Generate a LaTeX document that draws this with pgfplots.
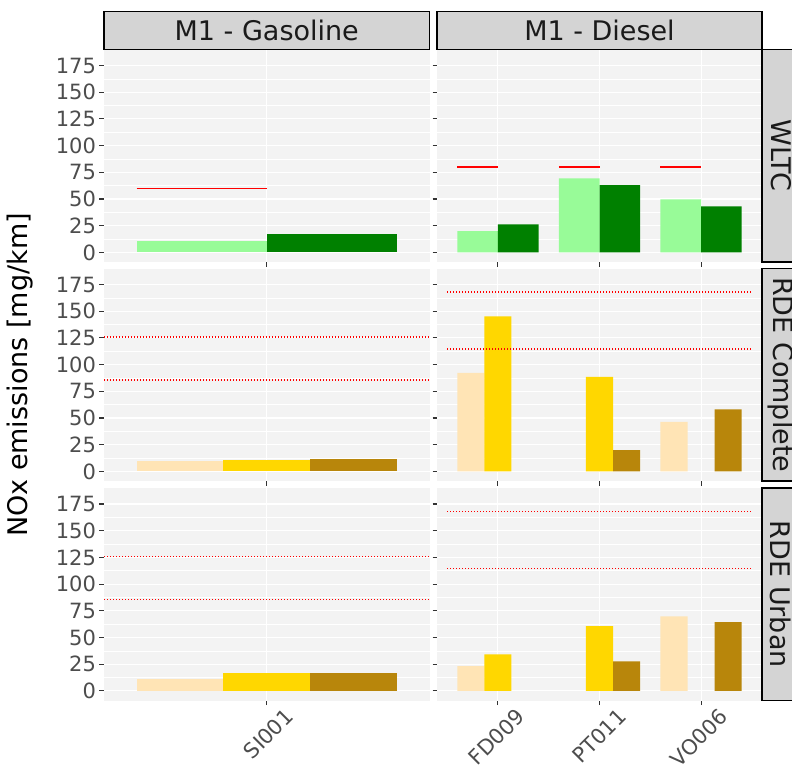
\documentclass[border=0pt]{standalone}
\usepackage{fontspec}
\setmainfont{DejaVu Sans}
\usepackage{pgfplots}
\pgfplotsset{compat=1.18}
\definecolor{panelbg}{RGB}{243,243,243}
\definecolor{stripbg}{RGB}{212,212,212}
\definecolor{lgreen}{RGB}{152,251,152}
\definecolor{dgreen}{RGB}{0,128,0}
\definecolor{beige}{RGB}{255,228,181}
\definecolor{gold}{RGB}{255,215,0}
\definecolor{dgold}{RGB}{184,134,11}
\definecolor{tickgrey}{RGB}{51,51,51}
\definecolor{labgrey}{RGB}{77,77,77}
\definecolor{titlegrey}{RGB}{26,26,26}
\pgfplotsset{
  panel/.style={
    scale only axis, height=212.5pt,
    ymin=-9, ymax=190,
    ytick={0,25,...,175}, minor y tick num=1,
    axis background/.style={fill=panelbg},
    axis line style={draw=none},
    tick align=outside, tick pos=left,
    major tick length=4.5pt, minor tick length=0pt,
    every tick/.style={tickgrey, line width=1.1pt},
    grid=both,
    major grid style={white, line width=1.1pt},
    minor grid style={white, line width=0.55pt},
    ticklabel style={font=\fontsize{21}{24}\selectfont, text=labgrey},
    /pgf/number format/assume math mode=true,
    xticklabel style={rotate=45, anchor=north east, xshift=14pt, yshift=-10pt},
    xticklabels={},
  },
  leftcol/.style={panel, width=325.5pt, xmin=0, xmax=1, xtick={0.5}},
  rightcol/.style={panel, width=325pt, xmin=0.4, xmax=3.6, xtick={1,2,3}, yticklabels={}},
  bar/.style={ybar, bar shift=0, draw=none, fill=#1},
  lim/.style={red, line width=1.4pt},
  dlim/.style={red, line width=1.5pt, dash pattern=on 1.2pt off 1.8pt},
}
\begin{document}
\begin{tikzpicture}
% ---------- Row 1: WLTC ----------
\begin{axis}[leftcol, at={(104pt,-49.5pt)}, anchor=north west]
  \addplot[bar=lgreen, bar width=0.4] coordinates {(0.3,10.5)};
  \addplot[bar=dgreen, bar width=0.4] coordinates {(0.7,17)};
  \addplot[lim] coordinates {(0.1,60) (0.5,60)};
\end{axis}
\begin{axis}[rightcol, at={(437pt,-49.5pt)}, anchor=north west]
  \addplot[bar=lgreen, bar width=0.4] coordinates {(0.8,19.8) (1.8,69.4) (2.8,49.7)};
  \addplot[bar=dgreen, bar width=0.4] coordinates {(1.2,26.2) (2.2,63) (3.2,43.2)};
  \addplot[lim] coordinates {(0.6,80) (1.0,80)};
  \addplot[lim] coordinates {(1.6,80) (2.0,80)};
  \addplot[lim] coordinates {(2.6,80) (3.0,80)};
\end{axis}
% ---------- Row 2: RDE Complete ----------
\begin{axis}[leftcol, at={(104pt,-268.5pt)}, anchor=north west]
  \addplot[bar=beige, bar width=0.2667] coordinates {(0.2333,10)};
  \addplot[bar=gold, bar width=0.2667] coordinates {(0.5,10.6)};
  \addplot[bar=dgold, bar width=0.2667] coordinates {(0.7667,11.8)};
  \addplot[dlim] coordinates {(0,126) (1,126)};
  \addplot[dlim] coordinates {(0,85.8) (1,85.8)};
\end{axis}
\begin{axis}[rightcol, at={(437pt,-268.5pt)}, anchor=north west]
  \addplot[bar=beige, bar width=0.2667] coordinates {(0.7333,92.3) (2.7333,46.3)};
  \addplot[bar=gold, bar width=0.2667] coordinates {(1,145.2) (2,88.6)};
  \addplot[bar=dgold, bar width=0.2667] coordinates {(2.2667,19.9) (3.2667,58.1)};
  \addplot[dlim] coordinates {(0.5,168) (3.5,168)};
  \addplot[dlim] coordinates {(0.5,114.4) (3.5,114.4)};
\end{axis}
% ---------- Row 3: RDE Urban ----------
\begin{axis}[leftcol, at={(104pt,-488pt)}, anchor=north west, xticklabels={SI001}]
  \addplot[bar=beige, bar width=0.2667] coordinates {(0.2333,11.5)};
  \addplot[bar=gold, bar width=0.2667] coordinates {(0.5,17.1)};
  \addplot[bar=dgold, bar width=0.2667] coordinates {(0.7667,17.1)};
  \addplot[dlim] coordinates {(0,126) (1,126)};
  \addplot[dlim] coordinates {(0,85.8) (1,85.8)};
\end{axis}
\begin{axis}[rightcol, at={(437pt,-488pt)}, anchor=north west, xticklabels={FD009,PT011,VO006}]
  \addplot[bar=beige, bar width=0.2667] coordinates {(0.7333,23.3) (2.7333,69.9)};
  \addplot[bar=gold, bar width=0.2667] coordinates {(1,34.2) (2,60.6)};
  \addplot[bar=dgold, bar width=0.2667] coordinates {(2.2667,27.7) (3.2667,64.3)};
  \addplot[dlim] coordinates {(0.5,168) (3.5,168)};
  \addplot[dlim] coordinates {(0.5,114.4) (3.5,114.4)};
\end{axis}
% ---------- Strips ----------
\begin{scope}[line width=1.2pt]
  \draw[fill=stripbg] (104pt,-11.5pt) rectangle (429.5pt,-49.5pt);
  \draw[fill=stripbg] (437pt,-11.5pt) rectangle (762pt,-49.5pt);
  \draw[fill=stripbg] (762pt,-49.5pt) rectangle (800pt,-262pt);
  \draw[fill=stripbg] (762pt,-268.5pt) rectangle (800pt,-481pt);
  \draw[fill=stripbg] (762pt,-488pt) rectangle (800pt,-700.5pt);
\end{scope}
\begin{scope}[every node/.style={font=\fontsize{27}{30}\selectfont, text=titlegrey}]
  \node at (266.75pt,-30.5pt) {M1 - Gasoline};
  \node at (599.5pt,-30.5pt) {M1 - Diesel};
  \node[rotate=-90] at (781pt,-155.75pt) {WLTC};
  \node[rotate=-90] at (781pt,-374.75pt) {RDE Complete};
  \node[rotate=-90] at (781pt,-594.25pt) {RDE Urban};
  \node[rotate=90, text=black] at (20pt,-375pt) {NOx emissions [mg/km]};
\end{scope}
\pgfresetboundingbox
\useasboundingbox (0,0) rectangle (792pt,-778pt);
\end{tikzpicture}
\end{document}
